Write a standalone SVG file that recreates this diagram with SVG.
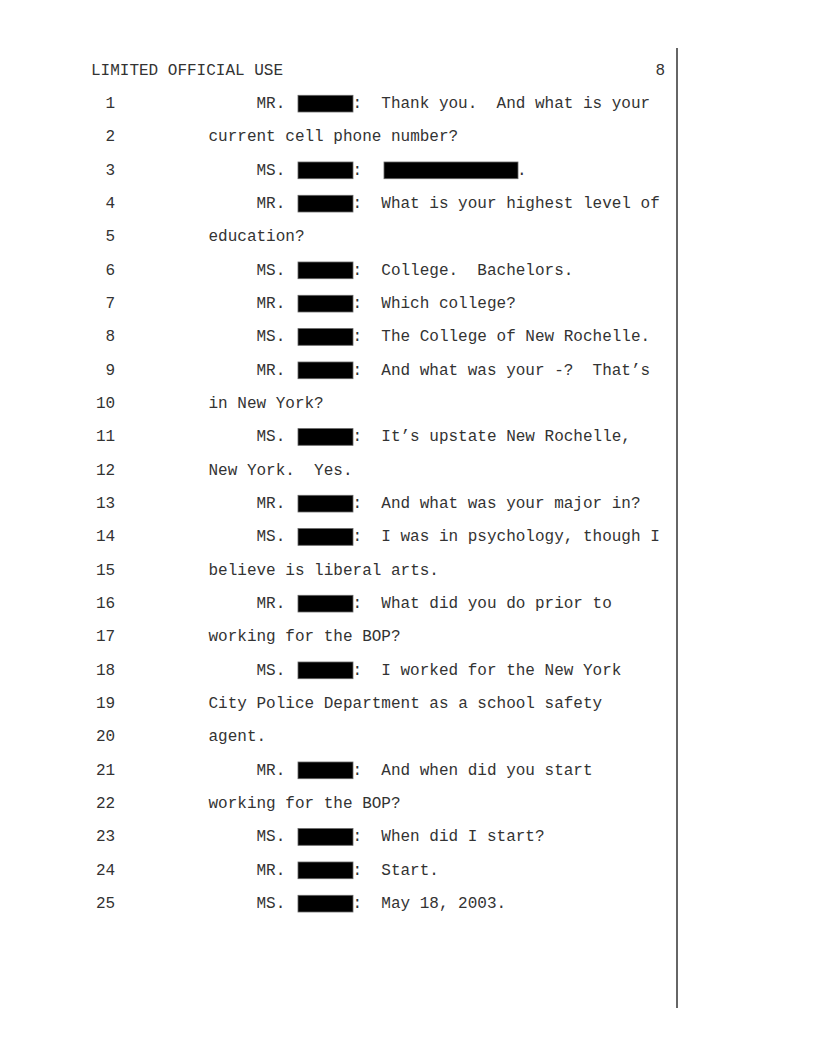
<svg xmlns="http://www.w3.org/2000/svg" width="816" height="1056" viewBox="0 0 816 1056" xml:space="preserve">
<style>
text{font-family:"Liberation Mono","Courier New",monospace;font-size:16px;fill:#333;white-space:pre}
.n{text-anchor:end}
.r{fill:#000;stroke:#666;stroke-width:0.8}
</style>
<rect width="816" height="1056" fill="#fff"/>
<line x1="677" y1="48" x2="677" y2="1008" stroke="#333" stroke-width="1.5"/>
<g id="header">
<text x="91" y="75">LIMITED OFFICIAL USE</text>
<text class="n" x="665" y="75">8</text>
</g>
<g id="linenumbers">
<text class="n" x="115.2" y="108">1</text>
<text class="n" x="115.2" y="141.33">2</text>
<text class="n" x="115.2" y="174.67">3</text>
<text class="n" x="115.2" y="208">4</text>
<text class="n" x="115.2" y="241.33">5</text>
<text class="n" x="115.2" y="274.67">6</text>
<text class="n" x="115.2" y="308">7</text>
<text class="n" x="115.2" y="341.33">8</text>
<text class="n" x="115.2" y="374.67">9</text>
<text class="n" x="115.2" y="408">10</text>
<text class="n" x="115.2" y="441.33">11</text>
<text class="n" x="115.2" y="474.67">12</text>
<text class="n" x="115.2" y="508">13</text>
<text class="n" x="115.2" y="541.33">14</text>
<text class="n" x="115.2" y="574.67">15</text>
<text class="n" x="115.2" y="608">16</text>
<text class="n" x="115.2" y="641.33">17</text>
<text class="n" x="115.2" y="674.67">18</text>
<text class="n" x="115.2" y="708">19</text>
<text class="n" x="115.2" y="741.33">20</text>
<text class="n" x="115.2" y="774.67">21</text>
<text class="n" x="115.2" y="808">22</text>
<text class="n" x="115.2" y="841.33">23</text>
<text class="n" x="115.2" y="874.67">24</text>
<text class="n" x="115.2" y="908">25</text>
</g>
<g id="redactions">
<rect class="r" x="298" y="95.3" width="55" height="16.7"/>
<rect class="r" x="298" y="162" width="55" height="16.7"/>
<rect class="r" x="384" y="162" width="134" height="16.7"/>
<rect class="r" x="298" y="195.3" width="55" height="16.7"/>
<rect class="r" x="298" y="262" width="55" height="16.7"/>
<rect class="r" x="298" y="295.3" width="55" height="16.7"/>
<rect class="r" x="298" y="328.6" width="55" height="16.7"/>
<rect class="r" x="298" y="362" width="55" height="16.7"/>
<rect class="r" x="298" y="428.6" width="55" height="16.7"/>
<rect class="r" x="298" y="495.3" width="55" height="16.7"/>
<rect class="r" x="298" y="528.6" width="55" height="16.7"/>
<rect class="r" x="298" y="595.3" width="55" height="16.7"/>
<rect class="r" x="298" y="662" width="55" height="16.7"/>
<rect class="r" x="298" y="762" width="55" height="16.7"/>
<rect class="r" x="298" y="828.6" width="55" height="16.7"/>
<rect class="r" x="298" y="862" width="55" height="16.7"/>
<rect class="r" x="298" y="895.3" width="55" height="16.7"/>
</g>
<g id="body">
<text x="256.5" y="108">MR.</text><text x="352.5" y="108">:  Thank you.  And what is your</text>
<text x="208.5" y="141.33">current cell phone number?</text>
<text x="256.5" y="174.67">MS.</text><text x="352.5" y="174.67">:</text><text x="517" y="174.67">.</text>
<text x="256.5" y="208">MR.</text><text x="352.5" y="208">:  What is your highest level of</text>
<text x="208.5" y="241.33">education?</text>
<text x="256.5" y="274.67">MS.</text><text x="352.5" y="274.67">:  College.  Bachelors.</text>
<text x="256.5" y="308">MR.</text><text x="352.5" y="308">:  Which college?</text>
<text x="256.5" y="341.33">MS.</text><text x="352.5" y="341.33">:  The College of New Rochelle.</text>
<text x="256.5" y="374.67">MR.</text><text x="352.5" y="374.67">:  And what was your -?  That’s</text>
<text x="208.5" y="408">in New York?</text>
<text x="256.5" y="441.33">MS.</text><text x="352.5" y="441.33">:  It’s upstate New Rochelle,</text>
<text x="208.5" y="474.67">New York.  Yes.</text>
<text x="256.5" y="508">MR.</text><text x="352.5" y="508">:  And what was your major in?</text>
<text x="256.5" y="541.33">MS.</text><text x="352.5" y="541.33">:  I was in psychology, though I</text>
<text x="208.5" y="574.67">believe is liberal arts.</text>
<text x="256.5" y="608">MR.</text><text x="352.5" y="608">:  What did you do prior to</text>
<text x="208.5" y="641.33">working for the BOP?</text>
<text x="256.5" y="674.67">MS.</text><text x="352.5" y="674.67">:  I worked for the New York</text>
<text x="208.5" y="708">City Police Department as a school safety</text>
<text x="208.5" y="741.33">agent.</text>
<text x="256.5" y="774.67">MR.</text><text x="352.5" y="774.67">:  And when did you start</text>
<text x="208.5" y="808">working for the BOP?</text>
<text x="256.5" y="841.33">MS.</text><text x="352.5" y="841.33">:  When did I start?</text>
<text x="256.5" y="874.67">MR.</text><text x="352.5" y="874.67">:  Start.</text>
<text x="256.5" y="908">MS.</text><text x="352.5" y="908">:  May 18, 2003.</text>
</g>
</svg>
